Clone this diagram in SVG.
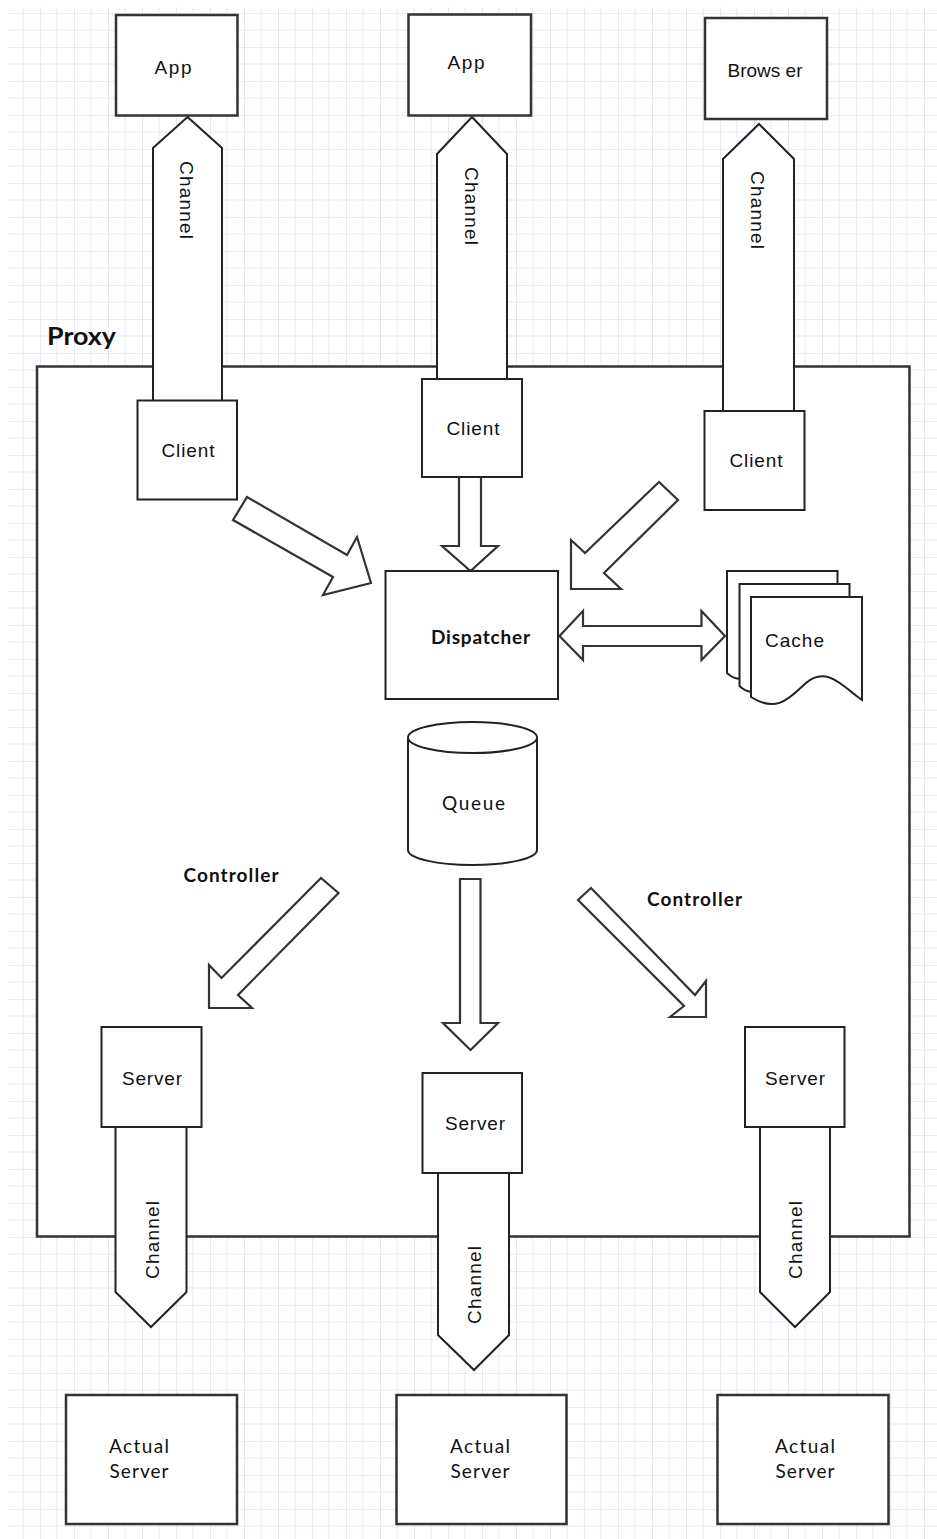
<svg xmlns="http://www.w3.org/2000/svg" width="937" height="1539" viewBox="0 0 937 1539">
<style>
.box{fill:#fff;stroke:#333;stroke-width:2.5}
.shp{fill:#fff;stroke:#222;stroke-width:2}
.blk{fill:#fff;stroke:#333;stroke-width:2.2;stroke-linejoin:miter}
.lbl{font-family:"Liberation Sans",Arial,sans-serif;font-size:19px;fill:#111;text-anchor:middle;dominant-baseline:central}
.cal{font-family:Lato,"Liberation Sans",sans-serif}
.b{font-weight:bold}
</style>
<defs>
<pattern id="grid" x="6" y="13" width="34" height="34" patternUnits="userSpaceOnUse">
<path d="M0,0 V34 M0,0 H34" stroke="#d6d6f7" stroke-width="1.2" fill="none"/>
<path d="M17,0 V34 M0,17 H34" stroke="#e6e6fb" stroke-width="1" fill="none"/>
</pattern>
</defs>
<rect width="937" height="1539" fill="#fff"/>
<rect x="7" y="7" width="930" height="1532" fill="url(#grid)"/>

<g id="proxy">
<rect x="37" y="366.5" width="872.5" height="870" fill="#fff" stroke="#333" stroke-width="2.5"/>
<text x="47" y="345" class="cal b" font-size="24" fill="#111" textLength="69" lengthAdjust="spacingAndGlyphs">Proxy</text>
</g>

<g id="connectors">
<polygon id="channel-app1" class="shp" points="187.5,117 222,148 222,401 153,401 153,148"/>
<text class="lbl" transform="translate(186,200) rotate(90)" textLength="78">Channel</text>
<polygon id="channel-app2" class="shp" points="472,117 507,154 507,379 437,379 437,154"/>
<text class="lbl" transform="translate(471,206) rotate(90)" textLength="78">Channel</text>
<polygon id="channel-browser" class="shp" points="759,124 794,159 794,411 723,411 723,159"/>
<text class="lbl" transform="translate(757,210) rotate(90)" textLength="78">Channel</text>

<polygon id="channel-srv1" class="shp" points="115.5,1127 186.5,1127 186.5,1292 151,1327 115.5,1292"/>
<text class="lbl" transform="translate(152,1240) rotate(-90)" textLength="78">Channel</text>
<polygon id="channel-srv2" class="shp" points="438,1173 509,1173 509,1335 474,1370 438,1335"/>
<text class="lbl" transform="translate(474,1285) rotate(-90)" textLength="78">Channel</text>
<polygon id="channel-srv3" class="shp" points="760,1127 830,1127 830,1292 795,1327 760,1292"/>
<text class="lbl" transform="translate(795,1240) rotate(-90)" textLength="78">Channel</text>

<polygon class="blk" points="247,497 347,555 357,537 371,583 323,595 333,577 233,520"/>
<polygon class="blk" points="459,477 481,477 481,546 498,546 470.5,571 442,546 459,546"/>
<polygon class="blk" points="659,482 585,553 571,540 571,589 621,589 604,573 678,500"/>
<polygon class="blk" points="559.5,636 583,611 583,626 701.5,626 701.5,611 725,636 701.5,660 701.5,646 583,646 583,660"/>
<polygon class="blk" points="321,878 221.5,978 209,965 209,1008 252,1008 238,995 338.5,893"/>
<polygon class="blk" points="460,879 480.5,879 480.5,1023 498,1023 470.5,1050 443,1023 460,1023"/>
<polygon class="blk" points="578,900 684,1006 670,1017 706,1017 706,981 695,995 591,888"/>
</g>

<g id="app1"><rect class="box" x="116" y="15" width="121.5" height="100.5"/><text class="lbl" x="173" y="67" textLength="37">App</text></g>
<g id="app2"><rect class="box" x="408.5" y="14.5" width="122.5" height="101"/><text class="lbl" x="466" y="62" textLength="37">App</text></g>
<g id="browser"><rect class="box" x="705" y="18" width="122" height="101"/><text class="lbl" x="765" y="70" textLength="75">Brows er</text></g>

<g id="client1"><rect class="shp" x="137.5" y="400.5" width="99.5" height="99"/><text class="lbl" x="188" y="450" textLength="53">Client</text></g>
<g id="client2"><rect class="shp" x="422" y="379" width="100" height="98"/><text class="lbl" x="473" y="428" textLength="53">Client</text></g>
<g id="client3"><rect class="shp" x="704.5" y="411" width="100" height="99"/><text class="lbl" x="756" y="460" textLength="53">Client</text></g>

<g id="dispatcher"><rect class="shp" x="385.5" y="571" width="172.5" height="128"/><text class="lbl cal b" x="480.5" y="636" textLength="99">Dispatcher</text></g>

<g id="cache">
<path class="shp" d="M727,571 H837.5 V674 C815,664 805,654 780,660 C760,665 745,690 727,673 Z"/>
<path class="shp" d="M739.5,584 H849.5 V687 C827,677 817,667 792,673 C772,678 757,703 739.5,686 Z"/>
<path class="shp" d="M751,597 H862 V700 C846,690 828,664 806,683 C790,697 778,714 751,697 Z"/>
<text class="lbl" x="794.5" y="640" textLength="59">Cache</text>
</g>

<g id="queue">
<path class="shp" d="M408,737.5 V850 A64.5,15 0 0 0 537,850 V737.5"/>
<ellipse class="shp" cx="472.5" cy="737.5" rx="64.5" ry="15.5"/>
<text class="lbl cal" x="473.5" y="802" textLength="63">Queue</text>
</g>

<g id="controller-left"><text class="lbl cal b" x="231" y="874" textLength="95">Controller</text></g>
<g id="controller-right"><text class="lbl cal b" x="694.5" y="898" textLength="95">Controller</text></g>

<g id="server1"><rect class="shp" x="101.5" y="1027" width="100" height="100"/><text class="lbl" x="152" y="1078" textLength="60">Server</text></g>
<g id="server2"><rect class="shp" x="422.5" y="1073" width="99.5" height="100"/><text class="lbl" x="475" y="1123" textLength="60">Server</text></g>
<g id="server3"><rect class="shp" x="745" y="1027" width="99.5" height="100"/><text class="lbl" x="795" y="1078" textLength="60">Server</text></g>

<g id="actual1"><rect class="box" x="66" y="1395" width="171" height="129"/><text class="lbl cal" x="139" y="1445" textLength="60">Actual</text><text class="lbl cal" x="139" y="1470" textLength="59">Server</text></g>
<g id="actual2"><rect class="box" x="396.5" y="1395" width="170" height="129"/><text class="lbl cal" x="480" y="1445" textLength="60">Actual</text><text class="lbl cal" x="480" y="1470" textLength="59">Server</text></g>
<g id="actual3"><rect class="box" x="717.5" y="1395" width="171" height="129"/><text class="lbl cal" x="805" y="1445" textLength="60">Actual</text><text class="lbl cal" x="805" y="1470" textLength="59">Server</text></g>
</svg>
